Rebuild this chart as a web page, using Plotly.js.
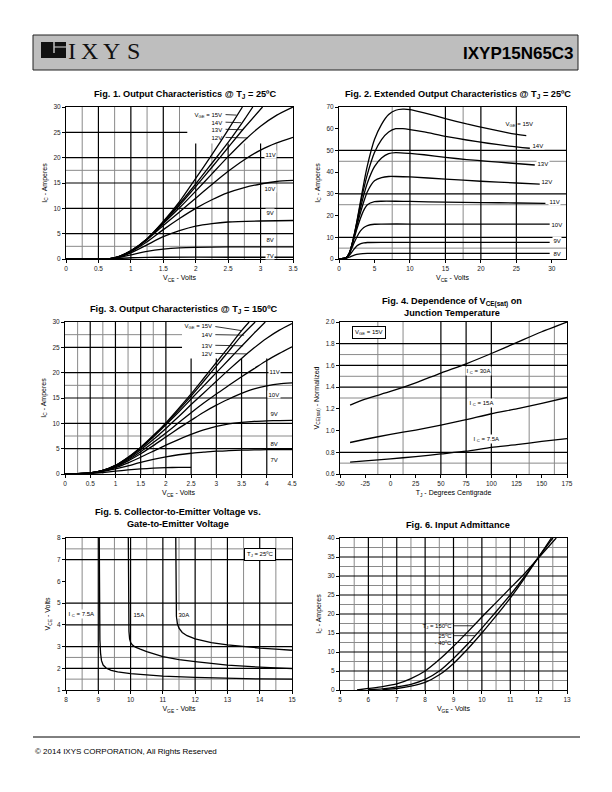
<!DOCTYPE html>
<html><head><meta charset="utf-8">
<script src="https://cdn.plot.ly/plotly-3.0.1.min.js"></script>
<style>html,body{margin:0;padding:0;background:#fff;}#page{width:612px;height:792px;}</style>
</head><body><div id="page"></div>
<script>
// ================= DATA =================
// Fig.1 Output Characteristics @ Tj = 25C  (VCE volts -> IC amps)
const f1Names = ['7V','8V','9V','10V','11V','12V','13V','14V','15V'];
const f1_7V_x  = [0,0.65,0.8,1.0,1.25,1.5,2.5,3.5];
const f1_7V_y  = [0,0,0.1,0.25,0.33,0.35,0.35,0.35];
const f1_8V_x  = [0,0.65,0.8,1.0,1.25,1.5,1.75,2.0,2.5,3.0,3.5];
const f1_8V_y  = [0,0,0.25,0.8,1.5,1.95,2.2,2.3,2.38,2.4,2.4];
const f1_9V_x  = [0,0.65,0.8,1.0,1.25,1.5,1.75,2.0,2.25,2.5,3.0,3.5];
const f1_9V_y  = [0,0,0.3,1.2,2.8,4.4,5.6,6.5,7.0,7.3,7.5,7.6];
const f1_10V_x = [0,0.65,0.8,1.0,1.25,1.5,1.75,2.0,2.25,2.5,2.75,3.0,3.25,3.5];
const f1_10V_y = [0,0,0.3,1.4,3.4,5.8,8.0,10.0,11.7,13.1,14.1,14.8,15.3,15.5];
const f1_11V_x = [0,0.65,0.8,1.0,1.25,1.5,1.75,2.0,2.25,2.5,2.75,3.0,3.25,3.5];
const f1_11V_y = [0,0,0.35,1.5,3.8,6.6,9.3,12.0,14.7,17.3,19.6,21.5,22.9,24.0];
const f1_12V_x = [0,0.65,0.8,1.0,1.25,1.5,1.75,2.0,2.25,2.5,2.75,3.0,3.25,3.5];
const f1_12V_y = [0,0,0.4,1.55,3.9,7.0,10.1,13.4,16.8,20.2,23.4,26.2,28.4,30.0];
const f1_13V_x = [0,0.65,0.8,1.0,1.25,1.5,1.75,2.0,2.25,2.5,2.75,3.03];
const f1_13V_y = [0,0,0.4,1.6,3.95,7.2,10.6,14.3,18.1,22.0,25.9,30.0];
const f1_14V_x = [0,0.65,0.8,1.0,1.25,1.5,1.75,2.0,2.25,2.5,2.75,2.88];
const f1_14V_y = [0,0,0.4,1.6,3.95,7.3,10.9,14.8,18.9,23.0,27.5,30.0];
const f1_15V_x = [0,0.65,0.8,1.0,1.25,1.5,1.75,2.0,2.25,2.5,2.72];
const f1_15V_y = [0,0,0.4,1.6,4.0,7.4,11.3,15.9,20.6,25.5,30.0];

// Fig.2 Extended Output Characteristics @ Tj = 25C
const f2Names = ['8V','9V','10V','11V','12V','13V','14V','15V'];
const f2_8V_x  = [0,1,1.5,2,2.5,3,4,6,29.7];
const f2_8V_y  = [0,0.3,0.9,1.6,2.1,2.4,2.55,2.6,2.6];
const f2_9V_x  = [0,1,1.5,2,2.5,3,3.5,4,6,29.7];
const f2_9V_y  = [0,0.4,1.8,4,6,7,7.4,7.6,7.7,7.7];
const f2_10V_x = [0,1,1.5,2,2.5,3,3.5,4,5,6,10,20,29.7];
const f2_10V_y = [0,0.5,2.8,6.5,10,12.8,14.5,15.4,16,16.1,16.1,16.1,16.1];
const f2_11V_x = [0,1,1.5,2,2.5,3,3.5,4,5,6,8,10,15,20,25,29.1];
const f2_11V_y = [0,0.5,3,8,13.5,18.5,22.5,25,26.4,26.6,26.6,26.5,26.2,26,25.8,25.6];
const f2_12V_x = [0,1,1.5,2,2.5,3,3.5,4,5,6,7,8,10,15,20,25,28.3];
const f2_12V_y = [0,0.5,3,8.5,15,21,26.5,31,36,37.5,38,38,37.8,36.8,35.8,35,34.5];
const f2_13V_x = [0,1,1.5,2,2.5,3,3.5,4,5,6,7,8,10,12,15,18,21,24,27.6];
const f2_13V_y = [0,0.5,3,8.8,16,23,29.5,35,42.5,46.5,48.5,49,48.6,48,46.8,45.8,45,44.2,43.3];
const f2_14V_x = [0,1,1.5,2,2.5,3,3.5,4,5,6,7,8,9,10,12,15,18,21,24,26.9];
const f2_14V_y = [0,0.5,3,9,16.5,25,32.5,39,49,55,58.5,60,60,59.6,58.5,56.5,54.8,53.3,52,51];
const f2_15V_x = [0,1,1.5,2,2.5,3,3.5,4,5,6,7,8,9,10,12,15,18,21,24,26.4];
const f2_15V_y = [0,0.5,3,9,17,26,35,43,55,62,66.5,68.5,69,68.8,67.3,64.7,62.2,60,58,56.8];

// Fig.3 Output Characteristics @ Tj = 150C
const f3_x     = [0,0.25,0.5,0.75,1,1.25,1.5,1.75,2,2.25,2.5,2.75,3,3.25,3.5,3.75,4,4.25,4.5];
const f3_7V_x  = [0,0.25,0.5,0.75,1,1.25,1.5,1.75,2,2.25,2.5];
const f3_7V_y  = [0,0.04,0.12,0.3,0.55,0.8,1.0,1.15,1.25,1.3,1.3];
const f3_8V_y  = [0,0.05,0.18,0.5,1.0,1.6,2.3,2.9,3.4,3.8,4.1,4.3,4.5,4.6,4.7,4.75,4.8,4.8,4.8];
const f3_9V_y  = [0,0.05,0.2,0.55,1.25,2.2,3.3,4.5,5.7,6.8,7.8,8.7,9.4,9.9,10.2,10.4,10.5,10.55,10.6];
const f3_10V_y = [0,0.05,0.2,0.6,1.4,2.6,4.0,5.6,7.3,9.0,10.6,12.2,13.6,14.8,15.9,16.8,17.4,17.8,18.0];
const f3_11V_y = [0,0.05,0.2,0.65,1.5,2.8,4.4,6.2,8.1,10.1,12.1,14.0,15.8,17.5,19.2,20.8,22.4,23.8,25.1];
const f3_12V_y = [0,0.05,0.2,0.7,1.6,3.0,4.8,6.8,9.0,11.3,13.7,16.0,18.3,20.6,22.8,24.9,26.8,28.4,29.7];
const f3_13V_x = [0,0.25,0.5,0.75,1,1.25,1.5,1.75,2,2.25,2.5,2.75,3,3.25,3.5,3.75,3.97];
const f3_13V_y = [0,0.05,0.2,0.7,1.65,3.2,5.1,7.3,9.7,12.2,14.8,17.4,20.0,22.6,25.2,27.8,30];
const f3_14V_x = [0,0.25,0.5,0.75,1,1.25,1.5,1.75,2,2.25,2.5,2.75,3,3.25,3.5,3.77];
const f3_14V_y = [0,0.05,0.2,0.7,1.7,3.25,5.2,7.5,9.9,12.6,15.4,18.3,21.3,24.3,27.3,30];
const f3_15V_x = [0,0.25,0.5,0.75,1,1.25,1.5,1.75,2,2.25,2.5,2.75,3,3.25,3.5,3.65];
const f3_15V_y = [0,0.05,0.2,0.7,1.7,3.3,5.3,7.6,10.1,12.9,15.8,18.9,22.0,25.1,28.3,30];

// Fig.4 Dependence of VCE(sat) on junction temperature
const f4_tj     = [-40,-25,0,25,50,75,100,125,150,175];
const f4_30A    = [1.235,1.29,1.36,1.44,1.53,1.615,1.71,1.81,1.91,2.0];
const f4_15A    = [0.89,0.92,0.965,1.005,1.05,1.10,1.155,1.20,1.25,1.305];
const f4_7p5A   = [0.71,0.72,0.74,0.76,0.785,0.81,0.845,0.87,0.90,0.925];

// Fig.5 VCE vs VGE @ Tj = 25C
const f5_7p5A_x = [9.03,9.035,9.04,9.05,9.07,9.1,9.15,9.25,9.4,9.6,10,10.5,11,12,13,14,15];
const f5_7p5A_y = [8,6,4.5,3.3,2.7,2.35,2.15,2.0,1.9,1.83,1.75,1.69,1.64,1.58,1.54,1.51,1.5];
const f5_15A_x  = [9.93,9.935,9.94,9.95,9.97,10,10.05,10.15,10.3,10.5,11,11.5,12,13,14,15];
const f5_15A_y  = [8,6,4.5,3.7,3.35,3.2,3.08,2.97,2.88,2.77,2.54,2.4,2.31,2.15,2.05,1.98];
const f5_30A_x  = [11.4,11.405,11.41,11.42,11.45,11.5,11.6,11.75,12,12.5,13,13.5,14,14.5,15];
const f5_30A_y  = [8,6.5,5,4.4,4.05,3.85,3.65,3.5,3.35,3.18,3.08,3.0,2.93,2.88,2.83];

// Fig.6 Input Admittance
const f6_150_x = [5.6,6,6.5,7,7.5,8,8.5,9,9.5,10,10.5,11,11.5,12,12.62];
const f6_150_y = [0,0.4,0.9,1.6,3.0,5.0,8.0,11.5,15.3,19.2,23.0,26.8,30.6,34.8,40];
const f6_25_x  = [6,6.5,7,7.5,8,8.5,9,9.5,10,10.5,11,11.5,12,12.5];
const f6_25_y  = [0.1,0.3,0.8,1.5,2.8,5.0,8.3,12.1,16.3,20.6,25,29.8,35,40];
const f6_m40_x = [6.5,7,7.5,8,8.5,9,9.5,10,10.5,11,11.5,12,12.45];
const f6_m40_y = [0.1,0.4,1.0,2.0,4.0,7.0,10.8,15.0,19.5,24.2,29.4,35,40];

// Tick labels
const f1_xt = [0,0.5,1,1.5,2,2.5,3,3.5], f1_yt = [0,5,10,15,20,25,30];
const f2_xt = [0,5,10,15,20,25,30],      f2_yt = [0,10,20,30,40,50,60,70];
const f3_xt = [0,0.5,1,1.5,2,2.5,3,3.5,4,4.5], f3_yt = [0,5,10,15,20,25,30];
const f4_xt = [-50,-25,0,25,50,75,100,125,150,175];
const f4_yt = [0.6,0.8,1.0,1.2,1.4,1.6,1.8,2.0];
const f4_ytxt = ['0.6','0.8','1.0','1.2','1.4','1.6','1.8','2.0'];
const f5_xt = [8,9,10,11,12,13,14,15], f5_yt = [1,2,3,4,5,6,7,8];
const f6_xt = [5,6,7,8,9,10,11,12,13], f6_yt = [0,5,10,15,20,25,30,35,40];

// ================= LAYOUT HELPERS =================
const W = 612, H = 792;
const fx = p => p / W, fy = p => 1 - p / H;
const FONT = 'Liberation Sans, Arial, sans-serif';
const NARROW = 'Liberation Sans Narrow, Arial Narrow, Liberation Sans, sans-serif';
const BLACK = '#000', GRAY = '#8a8a8a';

const charts = [
  {box:[66,293,107,259], xr:[0,3.5], yr:[0,30], xt:f1_xt, yt:f1_yt,
   gxM:[0.5,1,1.5,2,2.5,3], gxm:[0.25,0.75,1.25,1.75,2.25,2.75,3.25],
   gyM:[5,10,15,20,25], gym:[2.5,17.5], clear:[1.87,22.8],
   xtitle:'V<sub>CE</sub> - Volts', ytitle:'I<sub>C</sub> - Amperes'},
  {box:[339,566,107,259], xr:[0,32], yr:[0,70], xt:f2_xt, yt:f2_yt,
   gxM:[10,15,20,25], gxm:[7.5,17.5], gyM:[10,30,50], gym:[5,25,45], clear:null,
   xtitle:'V<sub>CE</sub> - Volts', ytitle:'I<sub>C</sub> - Amperes'},
  {box:[65,292,322,474], xr:[0,4.5], yr:[0,30], xt:f3_xt, yt:f3_yt,
   gxM:[0.5,1,1.5,2,2.5,3,3.5,4], gxm:[0.25,0.75,1.25,1.75],
   gyM:[5,10,15,20,25], gym:[7.5,17.5,27.5], clear:[2.32,22.8],
   xtitle:'V<sub>CE</sub> - Volts', ytitle:'I<sub>C</sub> - Amperes'},
  {box:[340,567,322,474], xr:[-50,175], yr:[0.6,2.0], xt:f4_xt, yt:f4_yt, ytt:f4_ytxt,
   gxM:[50,75,100], gxm:[-12.5,12.5,137.5,162.5], gyM:[0.8,1.4,1.6,1.8], gym:[0.7,1.3,1.5,1.7], clear:null,
   xtitle:'T<sub>J</sub> - Degrees Centigrade', ytitle:'V<sub>CE(sat)</sub> - Normalized'},
  {box:[66,292,538,690], xr:[8,15], yr:[1,8], xt:f5_xt, yt:f5_yt,
   gxM:[9,10,11,12,13,14], gxm:[8.5,9.5,10.5,11.5,12.5,13.5,14.5], gyM:[2,3,4,5,7], gym:[1.5,2.5,7.5], clear:null,
   xtitle:'V<sub>GE</sub> - Volts', ytitle:'V<sub>CE</sub> - Volts'},
  {box:[340,567,538,690], xr:[5,13], yr:[0,40], xt:f6_xt, yt:f6_yt,
   gxM:[6,7,8,9,10,11,12], gxm:[5.5,6.5,7.5,8.5,9.5,10.5,11.5,12.5],
   gyM:[5,10,15,20,25,30,35], gym:[2.5,7.5,12.5,17.5,22.5,27.5,32.5,37.5], clear:null,
   xtitle:'V<sub>GE</sub> - Volts', ytitle:'I<sub>C</sub> - Amperes'}
];

const layout = {
  width: W, height: H, margin: {l:0, r:0, t:0, b:0},
  paper_bgcolor: '#fff', plot_bgcolor: '#fff', showlegend: false,
  font: {family: FONT, color: '#000'}, shapes: [], annotations: []
};

charts.forEach((c, i) => {
  const s = i === 0 ? '' : String(i + 1);
  const xa = 'x' + s, ya = 'y' + s;
  const common = {
    showline: true, mirror: true, linecolor: BLACK, linewidth: 1,
    ticks: 'outside', ticklen: 3, tickcolor: BLACK, tickwidth: 1,
    showgrid: false, zeroline: false, fixedrange: true, automargin: false,
    tickfont: {family: FONT, size: 6.5, color: '#222'}
  };
  layout['xaxis' + s] = Object.assign({}, common, {
    domain: [fx(c.box[0]), fx(c.box[1])], range: c.xr, anchor: ya,
    tickmode: 'array', tickvals: c.xt, ticktext: c.xt.map(String),
    title: {text: c.xtitle, font: {family: FONT, size: 7}, standoff: 4}
  });
  layout['yaxis' + s] = Object.assign({}, common, {
    domain: [fy(c.box[3]), fy(c.box[2])], range: c.yr, anchor: xa,
    tickmode: 'array', tickvals: c.yt, ticktext: c.ytt || c.yt.map(String),
    title: {text: c.ytitle, font: {family: FONT, size: 7}, standoff: 5}
  });
  const addLine = (x0, y0, x1, y1, col, w) => layout.shapes.push({
    type: 'line', xref: xa, yref: ya, x0, y0, x1, y1, layer: 'below',
    line: {color: col, width: w}
  });
  const vx = (v, col, w) => {
    const top = (c.clear && v >= c.clear[0]) ? c.clear[1] : c.yr[1];
    addLine(v, c.yr[0], v, top, col, w);
  };
  const hy = (v, col, w) => {
    const right = (c.clear && v >= c.clear[1]) ? c.clear[0] : c.xr[1];
    addLine(c.xr[0], v, right, v, col, w);
  };
  c.gxm.forEach(v => vx(v, GRAY, 1));
  c.gym.forEach(v => hy(v, GRAY, 1));
  c.gxM.forEach(v => vx(v, BLACK, 1.2));
  c.gyM.forEach(v => hy(v, BLACK, 1.2));
});

// ================= TRACES =================
const traces = [];
const curve = (x, y, k, shape) => traces.push({
  type: 'scatter', mode: 'lines', x, y, xaxis: 'x' + (k === 1 ? '' : k), yaxis: 'y' + (k === 1 ? '' : k),
  line: {color: '#000', width: 1.3, shape: shape || 'spline', smoothing: 0.6},
  hoverinfo: 'skip'
});
curve(f1_7V_x, f1_7V_y, 1); curve(f1_8V_x, f1_8V_y, 1); curve(f1_9V_x, f1_9V_y, 1);
curve(f1_10V_x, f1_10V_y, 1); curve(f1_11V_x, f1_11V_y, 1); curve(f1_12V_x, f1_12V_y, 1);
curve(f1_13V_x, f1_13V_y, 1); curve(f1_14V_x, f1_14V_y, 1); curve(f1_15V_x, f1_15V_y, 1);

curve(f2_8V_x, f2_8V_y, 2); curve(f2_9V_x, f2_9V_y, 2); curve(f2_10V_x, f2_10V_y, 2);
curve(f2_11V_x, f2_11V_y, 2); curve(f2_12V_x, f2_12V_y, 2); curve(f2_13V_x, f2_13V_y, 2);
curve(f2_14V_x, f2_14V_y, 2); curve(f2_15V_x, f2_15V_y, 2);

curve(f3_7V_x, f3_7V_y, 3); curve(f3_x, f3_8V_y, 3); curve(f3_x, f3_9V_y, 3);
curve(f3_x, f3_10V_y, 3); curve(f3_x, f3_11V_y, 3); curve(f3_x, f3_12V_y, 3);
curve(f3_13V_x, f3_13V_y, 3); curve(f3_14V_x, f3_14V_y, 3); curve(f3_15V_x, f3_15V_y, 3);

curve(f4_tj, f4_30A, 4); curve(f4_tj, f4_15A, 4); curve(f4_tj, f4_7p5A, 4);

curve(f5_7p5A_x, f5_7p5A_y, 5, 'linear'); curve(f5_15A_x, f5_15A_y, 5, 'linear'); curve(f5_30A_x, f5_30A_y, 5, 'linear');

curve(f6_150_x, f6_150_y, 6); curve(f6_25_x, f6_25_y, 6); curve(f6_m40_x, f6_m40_y, 6);

// ================= ANNOTATIONS =================
const A = layout.annotations, S = layout.shapes;
const lbl = (k, x, y, text, opt) => A.push(Object.assign({
  xref: 'x' + (k === 1 ? '' : k), yref: 'y' + (k === 1 ? '' : k), x, y, text, showarrow: false,
  font: {family: FONT, size: 6, color: '#000'}, bgcolor: '#fff', borderpad: 0.5,
  xanchor: 'center', yanchor: 'middle'
}, opt || {}));
const lead = (k, x0, y0, x1, y1) => S.push({
  type: 'line', xref: 'x' + (k === 1 ? '' : k), yref: 'y' + (k === 1 ? '' : k),
  x0, y0, x1, y1, line: {color: '#000', width: 0.8}
});
const paperText = (px, py, text, size, opt) => A.push(Object.assign({
  xref: 'paper', yref: 'paper', x: fx(px), y: fy(py), text, showarrow: false,
  font: {family: FONT, size, color: '#000'}, xanchor: 'center', yanchor: 'middle'
}, opt || {}));
const CLR = 'rgba(0,0,0,0)';

// Fig 1 labels
lbl(1, 2.44, 28.5, 'V<sub>GE</sub> = 15V', {xanchor: 'right', bgcolor: CLR}); lead(1, 2.46, 28.5, 2.63, 28.4);
lbl(1, 2.44, 27.0, '14V', {xanchor: 'right', bgcolor: CLR}); lead(1, 2.46, 27.0, 2.70, 26.9);
lbl(1, 2.44, 25.6, '13V', {xanchor: 'right', bgcolor: CLR}); lead(1, 2.46, 25.6, 2.73, 25.5);
lbl(1, 2.44, 24.0, '12V', {xanchor: 'right', bgcolor: CLR}); lead(1, 2.46, 24.0, 2.80, 23.9);
lbl(1, 3.15, 20.6, '11V'); lbl(1, 3.15, 14.0, '10V'); lbl(1, 3.15, 9.1, '9V');
lbl(1, 3.15, 3.8, '8V'); lbl(1, 3.15, 0.6, '7V');

// Fig 2 labels
lbl(2, 25.4, 62, 'V<sub>GE</sub> = 15V', {bgcolor: CLR});
lbl(2, 28.0, 52.3, '14V'); lbl(2, 28.8, 44.2, '13V'); lbl(2, 29.3, 35.5, '12V');
lbl(2, 30.4, 26.6, '11V'); lbl(2, 30.8, 16.0, '10V'); lbl(2, 30.8, 8.7, '9V'); lbl(2, 30.8, 2.6, '8V');

// Fig 3 labels
lbl(3, 2.96, 29.2, 'V<sub>GE</sub> = 15V', {xanchor: 'right', bgcolor: CLR}); lead(3, 2.98, 29.1, 3.5, 28.3);
lbl(3, 2.96, 27.5, '14V', {xanchor: 'right', bgcolor: CLR}); lead(3, 2.98, 27.5, 3.55, 27.4);
lbl(3, 2.96, 25.4, '13V', {xanchor: 'right', bgcolor: CLR}); lead(3, 2.98, 25.4, 3.53, 25.3);
lbl(3, 2.96, 23.8, '12V', {xanchor: 'right', bgcolor: CLR}); lead(3, 2.98, 23.8, 3.6, 23.7);
lbl(3, 4.15, 20.2, '11V'); lbl(3, 4.15, 15.7, '10V'); lbl(3, 4.15, 11.9, '9V');
lbl(3, 4.15, 6.0, '8V'); lbl(3, 4.15, 2.8, '7V');

// Fig 4 labels
lbl(4, -21, 1.905, 'V<sub>GE</sub> = 15V', {bordercolor: '#000', borderwidth: 1, borderpad: 2});
lbl(4, 87, 1.55, 'I <sub>C</sub> = 30A'); lbl(4, 90, 1.25, 'I <sub>C</sub> = 15A'); lbl(4, 95, 0.92, 'I <sub>C</sub> = 7.5A');

// Fig 5 labels
lbl(5, 14.0, 7.22, 'T<sub>J</sub> = 25ºC', {bordercolor: '#000', borderwidth: 1, borderpad: 2});
lbl(5, 8.47, 4.5, 'I <sub>C</sub> = 7.5A'); lbl(5, 10.27, 4.5, '15A'); lbl(5, 11.67, 4.5, '30A');

// Fig 6 labels
lbl(6, 9.0, 16.9, 'T<sub>J</sub> = 150ºC', {xanchor: 'right', bgcolor: CLR}); lead(6, 9.02, 16.9, 9.68, 16.9);
lbl(6, 9.0, 14.3, '25ºC', {xanchor: 'right', bgcolor: CLR}); lead(6, 9.02, 14.3, 9.75, 14.3);
lbl(6, 9.0, 12.5, '- 40ºC', {xanchor: 'right', bgcolor: CLR}); lead(6, 9.02, 12.5, 9.72, 12.5);

// Chart titles
const TF = {family: NARROW, size: 9.2, color: '#000', weight: 'bold'};
const title = (px, py, text) => A.push({xref: 'paper', yref: 'paper', x: fx(px), y: fy(py), text: '<b>' + text + '</b>',
  showarrow: false, font: TF, xanchor: 'center', yanchor: 'middle', align: 'center'});
title(185, 94, 'Fig. 1. Output Characteristics @ T<sub>J</sub> = 25ºC');
title(458, 94, 'Fig. 2. Extended Output Characteristics @ T<sub>J</sub> = 25ºC');
title(184, 309, 'Fig. 3. Output Characteristics @ T<sub>J</sub> = 150ºC');
title(452, 307, 'Fig. 4. Dependence of V<sub>CE(sat)</sub> on<br>Junction Temperature');
title(178, 518, 'Fig. 5. Collector-to-Emitter Voltage vs.<br>Gate-to-Emitter Voltage');
title(458, 525, 'Fig. 6. Input Admittance');

// Header
S.push({type: 'rect', xref: 'paper', yref: 'paper', x0: fx(33), x1: fx(578), y0: fy(70), y1: fy(35),
  fillcolor: '#bebebe', line: {color: '#222', width: 1}});
S.push({type: 'rect', xref: 'paper', yref: 'paper', x0: fx(41), x1: fx(66), y0: fy(58), y1: fy(42),
  fillcolor: '#111', line: {width: 0}});
S.push({type: 'line', xref: 'paper', yref: 'paper', x0: fx(54), x1: fx(54), y0: fy(42), y1: fy(53),
  line: {color: '#bebebe', width: 1.5}});
S.push({type: 'line', xref: 'paper', yref: 'paper', x0: fx(54), x1: fx(66), y0: fy(47), y1: fy(47),
  line: {color: '#bebebe', width: 1.2}});
const SERIF = 'Liberation Serif, Times New Roman, serif';
[['I', 72], ['X', 89], ['Y', 111], ['S', 133]].forEach(([t, px]) =>
  paperText(px, 51, t, 24, {font: {family: SERIF, size: 24, color: '#111'}}));
paperText(576, 53, '<b>IXYP15N65C3</b>', 17, {xanchor: 'right'});

// Footer
S.push({type: 'line', xref: 'paper', yref: 'paper', x0: fx(33), x1: fx(580), y0: fy(737), y1: fy(737),
  line: {color: '#000', width: 1}});
paperText(33, 751, '© 2014 IXYS CORPORATION, All Rights Reserved', 8, {xanchor: 'left'});

Plotly.newPlot('page', traces, layout, {staticPlot: true, displayModeBar: false});
</script>
</body></html>
